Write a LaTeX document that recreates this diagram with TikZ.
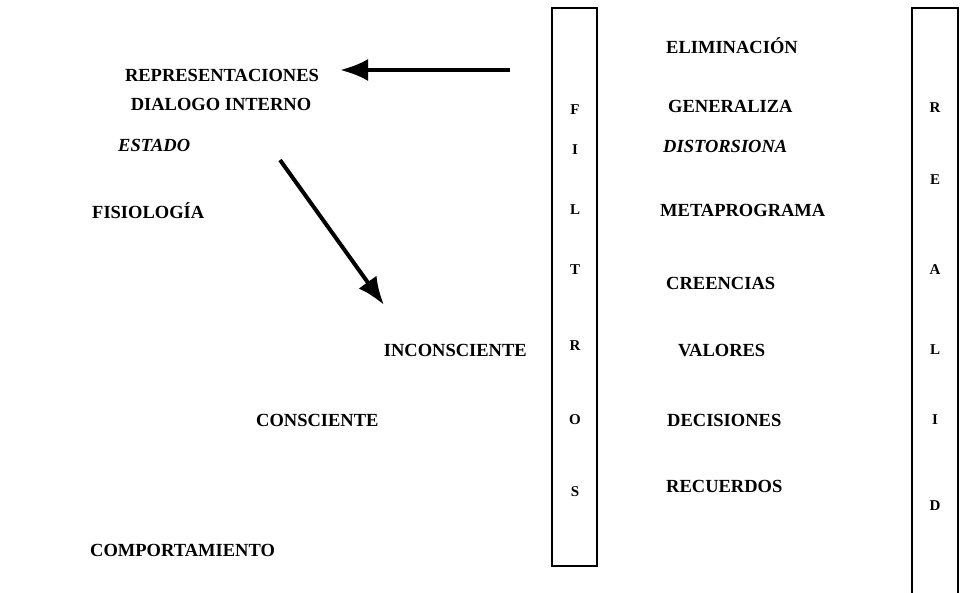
\documentclass[tikz,border=0pt]{standalone}
\usepackage{fontspec}
\setmainfont{Liberation Serif}
\usetikzlibrary{arrows.meta}
\tikzstyle{concept} = [font=\bfseries\fontsize{18.5}{22}\selectfont, inner sep=0pt, text height=13pt, text depth=0pt]
\tikzstyle{letter} = [font=\bfseries\fontsize{15}{17}\selectfont, inner sep=0pt]
\tikzstyle{column} = [rectangle, draw=black, line width=1.5pt, minimum width=45pt, minimum height=558pt, inner sep=0pt]
\tikzstyle{arrow} = [line width=4pt, -{Latex[length=28pt,width=22pt]}]

\begin{document}
\begin{tikzpicture}[x=1pt, y=-1pt]
        \useasboundingbox (0,0) rectangle (961,593);

        % filtros
        \node (filtros) [column] at (574.5,287) {};
        \node (f1) [letter] at (575,110) {F};
        \node (f2) [letter] at (575,150) {I};
        \node (f3) [letter] at (575,210) {L};
        \node (f4) [letter] at (575,270) {T};
        \node (f5) [letter] at (575,346) {R};
        \node (f6) [letter] at (575,420) {O};
        \node (f7) [letter] at (575,492) {S};

        % realidad (abierta por abajo)
        \draw[line width=1.5pt] (912,593) -- (912,8) -- (958,8) -- (958,593);
        \node (r1) [letter] at (935,108) {R};
        \node (r2) [letter] at (935,180) {E};
        \node (r3) [letter] at (935,270) {A};
        \node (r4) [letter] at (935,350) {L};
        \node (r5) [letter] at (935,420) {I};
        \node (r6) [letter] at (935,506) {D};

        % columna central
        \node (elim) [concept, anchor=west] at (666,47) {ELIMINACIÓN};
        \node (gen) [concept, anchor=west] at (668,106) {GENERALIZA};
        \node (dist) [concept, anchor=west] at (663,146) {\itshape DISTORSIONA};
        \node (meta) [concept, anchor=west] at (660,210) {METAPROGRAMA};
        \node (cree) [concept, anchor=west] at (666,283) {CREENCIAS};
        \node (val) [concept, anchor=west] at (678,350) {VALORES};
        \node (dec) [concept, anchor=west] at (667,420) {DECISIONES};
        \node (rec) [concept, anchor=west] at (666,486) {RECUERDOS};

        % lado izquierdo
        \node (rep) [concept] at (222,75) {REPRESENTACIONES};
        \node (dia) [concept] at (221,104) {DIALOGO INTERNO};
        \node (est) [concept, anchor=west] at (118,145) {\itshape ESTADO};
        \node (fis) [concept, anchor=west] at (92,212) {FISIOLOGÍA};
        \node (incon) [concept, anchor=east] at (527,350) {INCONSCIENTE};
        \node (con) [concept, anchor=west] at (256,420) {CONSCIENTE};
        \node (comp) [concept, anchor=west] at (90,550) {COMPORTAMIENTO};

        \coordinate (a1) at (510,70);
        \coordinate (a1tip) at (340,70);
        \coordinate (a2) at (280,160);
        \coordinate (a2tip) at (384,305);

        \draw[arrow] (a1) -- (a1tip);
        \draw[arrow] (a2) -- (a2tip);
    \end{tikzpicture}
\end{document}
